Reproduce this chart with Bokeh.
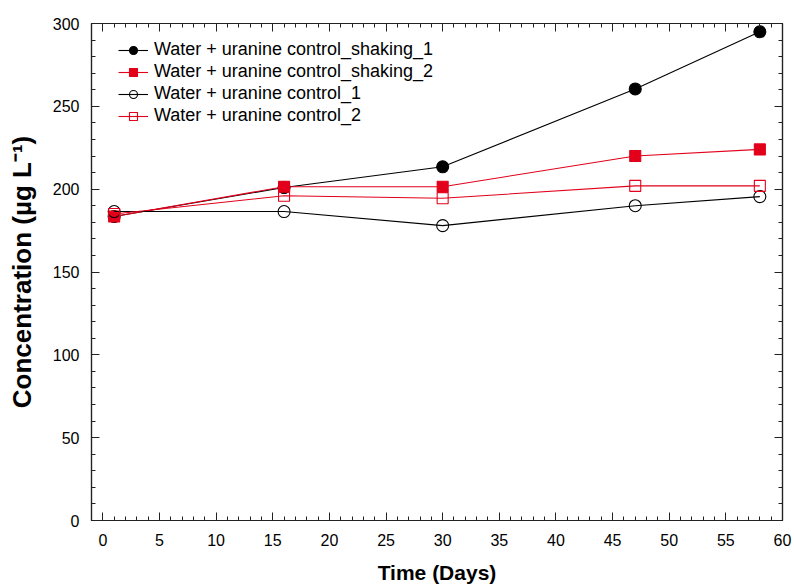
from bokeh.plotting import figure
from bokeh.models import LinearAxis, Legend, LegendItem, Range1d, SingleIntervalTicker
from bokeh.embed import file_html
from bokeh.resources import INLINE

# Sampling days
days = [1, 16, 30, 47, 58]

# Uranine concentrations (µg L-1)
shaking_1 = [183.5, 201, 213.5, 260.5, 295]
shaking_2 = [183.5, 201.5, 201.5, 220, 224]
control_1 = [186.5, 186.5, 178, 190, 195.5]
control_2 = [185, 196, 194.5, 202, 202]

labels = [
    "Water + uranine control_shaking_1",
    "Water + uranine control_shaking_2",
    "Water + uranine control_1",
    "Water + uranine control_2",
]

x_ticks = list(range(0, 61, 5))
y_ticks = list(range(0, 301, 50))

RED = "#E2001A"
FONT = "Liberation Sans"
INK = "#222222"

p = figure(
    width=794, height=588,
    output_backend="svg", toolbar_location=None,
    x_range=Range1d(-1, 60), y_range=Range1d(0, 300),
    min_border_left=91, min_border_right=12,
    min_border_top=23, min_border_bottom=68,
    x_axis_label="Time (Days)",
    y_axis_label="Concentration (µg L⁻¹)",
)
p.grid.visible = False
p.outline_line_color = INK
p.outline_line_width = 1.2
p.background_fill_color = "white"
p.border_fill_color = "white"

# Main axes: inward ticks
for ax, ticks in ((p.xaxis[0], x_ticks), (p.yaxis[0], y_ticks)):
    ax.ticker = SingleIntervalTicker(interval=ticks[1] - ticks[0], num_minor_ticks=5)
    ax.major_tick_in = 8
    ax.major_tick_out = 0
    ax.minor_tick_in = 4
    ax.minor_tick_out = 0
    ax.axis_line_color = INK
    ax.axis_line_width = 1.2
    ax.major_tick_line_color = INK
    ax.minor_tick_line_color = INK
    ax.major_label_text_font = FONT
    ax.major_label_text_font_size = "16px"
    ax.major_label_text_color = "black"
    ax.axis_label_text_font = FONT
    ax.axis_label_text_font_style = "bold"
    ax.axis_label_text_color = "black"

p.xaxis.major_label_standoff = 13
p.xaxis.axis_label_standoff = 12
p.xaxis.axis_label_text_font_size = "21px"
p.yaxis.major_label_standoff = 12
p.yaxis.axis_label_standoff = 13
p.yaxis.axis_label_text_font_size = "26px"

# Mirrored tick marks on the top and right edges (no labels)
for loc, ticks in (("above", x_ticks), ("right", y_ticks)):
    ax = LinearAxis(
        ticker=SingleIntervalTicker(interval=ticks[1] - ticks[0], num_minor_ticks=5),
        major_tick_in=8, major_tick_out=0, minor_tick_in=4, minor_tick_out=0,
        major_label_overrides={t: "" for t in ticks},
        major_label_standoff=0,
        axis_line_color=INK, axis_line_width=1.2,
        major_tick_line_color=INK, minor_tick_line_color=INK,
    )
    p.add_layout(ax, loc)

series = [
    (shaking_1, "black", "circle", "black", 12),
    (shaking_2, RED, "square", RED, 11),
    (control_1, "black", "circle", None, 12),
    (control_2, RED, "square", None, 11),
]

items = []
for (ys, color, marker, fill, size), label in zip(series, labels):
    ln = p.line(days, ys, line_color=color, line_width=1.1)
    sc = p.scatter(days, ys, marker=marker, size=size, line_color=color,
                   fill_color=fill, line_width=1.1)
    items.append(LegendItem(label=label, renderers=[ln, sc]))

legend = Legend(
    items=items, location=(27, 394),
    padding=0, margin=0, spacing=1,
    glyph_width=30, glyph_height=20, label_height=20,
    label_standoff=6,
    label_text_font=FONT, label_text_font_size="18px",
    label_text_color="black",
    border_line_color=None, background_fill_alpha=0,
)
p.add_layout(legend, "center")

open("out.html", "w").write(file_html(p, INLINE))
